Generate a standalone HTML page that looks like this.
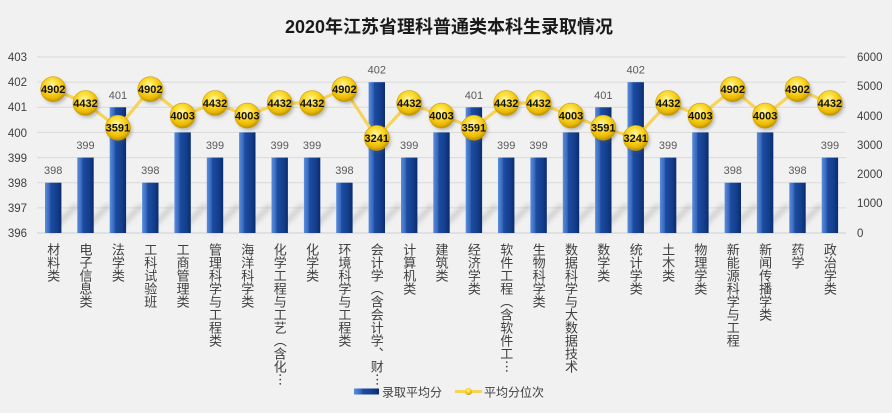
<!DOCTYPE html>
<html><head><meta charset="utf-8"><style>
html,body{margin:0;padding:0;}
body{width:892px;height:413px;background:#f1f1f1;position:relative;overflow:hidden;font-family:"Liberation Sans","Noto Sans CJK SC",sans-serif;}
svg{position:absolute;left:0;top:0;}
.cat{position:absolute;top:243px;width:14px;writing-mode:vertical-rl;text-orientation:mixed;font-size:13px;line-height:14px;color:#404040;font-family:"Noto Sans CJK SC",sans-serif;white-space:nowrap;}
</style></head><body>
<svg width="892" height="413" viewBox="0 0 892 413" xmlns="http://www.w3.org/2000/svg" font-family="Liberation Sans, Noto Sans CJK SC, sans-serif">
<defs>
<linearGradient id="bar" x1="0" y1="0" x2="1" y2="0">
<stop offset="0" stop-color="#5b8ddb"/>
<stop offset="0.28" stop-color="#3465bd"/>
<stop offset="0.34" stop-color="#1d4c9f"/>
<stop offset="0.75" stop-color="#133d8c"/>
<stop offset="1" stop-color="#0a2b6c"/>
</linearGradient>
<radialGradient id="ball" cx="0.45" cy="0.35" r="0.65">
<stop offset="0" stop-color="#fff7b0"/>
<stop offset="0.35" stop-color="#ffdf3a"/>
<stop offset="0.8" stop-color="#eab800"/>
<stop offset="1" stop-color="#b88f00"/>
</radialGradient>
<filter id="blur" x="-50%" y="-50%" width="200%" height="200%"><feGaussianBlur stdDeviation="2.5"/></filter>
<filter id="blur2" x="-50%" y="-50%" width="200%" height="200%"><feGaussianBlur stdDeviation="1.5"/></filter>
</defs>
<text x="449" y="33" text-anchor="middle" font-size="18" font-weight="bold" fill="#1a1a1a">2020年江苏省理科普通类本科生录取情况</text>
<g stroke="#d9d9d9" stroke-width="1">
<line x1="37" y1="57" x2="846" y2="57"/>
<line x1="37" y1="82.1" x2="846" y2="82.1"/>
<line x1="37" y1="107.3" x2="846" y2="107.3"/>
<line x1="37" y1="132.4" x2="846" y2="132.4"/>
<line x1="37" y1="157.6" x2="846" y2="157.6"/>
<line x1="37" y1="182.7" x2="846" y2="182.7"/>
<line x1="37" y1="207.9" x2="846" y2="207.9"/>
<line x1="37" y1="233" x2="846" y2="233" stroke="#d0d0d0"/>
</g>
<g font-size="11.5" fill="#404040" text-anchor="end">
<text x="27" y="61">403</text><text x="27" y="86">402</text><text x="27" y="111">401</text><text x="27" y="137">400</text><text x="27" y="162">399</text><text x="27" y="187">398</text><text x="27" y="212">397</text><text x="27" y="237">396</text>
</g>
<g font-size="11.5" fill="#404040">
<text x="857" y="61">6000</text><text x="857" y="90">5000</text><text x="857" y="120">4000</text><text x="857" y="149">3000</text><text x="857" y="178">2000</text><text x="857" y="207">1000</text><text x="857" y="237">0</text>
</g>
<!-- shadows -->
<g stroke="#9a9a9a" stroke-width="6" stroke-opacity="0.35" filter="url(#blur)">
<line x1="50" y1="232" x2="77" y2="205"/><line x1="82" y1="232" x2="109" y2="205"/><line x1="115" y1="232" x2="142" y2="205"/><line x1="147" y1="232" x2="174" y2="205"/><line x1="179" y1="232" x2="206" y2="205"/><line x1="212" y1="232" x2="239" y2="205"/><line x1="244" y1="232" x2="271" y2="205"/><line x1="276" y1="232" x2="303" y2="205"/><line x1="309" y1="232" x2="336" y2="205"/><line x1="341" y1="232" x2="368" y2="205"/><line x1="373" y1="232" x2="400" y2="205"/><line x1="406" y1="232" x2="433" y2="205"/><line x1="438" y1="232" x2="465" y2="205"/><line x1="470" y1="232" x2="497" y2="205"/><line x1="503" y1="232" x2="530" y2="205"/><line x1="535" y1="232" x2="562" y2="205"/><line x1="567" y1="232" x2="594" y2="205"/><line x1="600" y1="232" x2="627" y2="205"/><line x1="632" y1="232" x2="659" y2="205"/><line x1="664" y1="232" x2="691" y2="205"/><line x1="697" y1="232" x2="724" y2="205"/><line x1="729" y1="232" x2="756" y2="205"/><line x1="761" y1="232" x2="788" y2="205"/><line x1="794" y1="232" x2="821" y2="205"/>
</g>
<!-- bars -->
<g fill="url(#bar)">
<rect x="45.0" y="182.7" width="16.4" height="50.3"/>
<rect x="77.3" y="157.6" width="16.4" height="75.4"/>
<rect x="109.7" y="107.3" width="16.4" height="125.7"/>
<rect x="142.1" y="182.7" width="16.4" height="50.3"/>
<rect x="174.4" y="132.4" width="16.4" height="100.6"/>
<rect x="206.8" y="157.6" width="16.4" height="75.4"/>
<rect x="239.1" y="132.4" width="16.4" height="100.6"/>
<rect x="271.5" y="157.6" width="16.4" height="75.4"/>
<rect x="303.9" y="157.6" width="16.4" height="75.4"/>
<rect x="336.2" y="182.7" width="16.4" height="50.3"/>
<rect x="368.6" y="82.2" width="16.4" height="150.8"/>
<rect x="401.0" y="157.6" width="16.4" height="75.4"/>
<rect x="433.3" y="132.4" width="16.4" height="100.6"/>
<rect x="465.7" y="107.3" width="16.4" height="125.7"/>
<rect x="498.0" y="157.6" width="16.4" height="75.4"/>
<rect x="530.4" y="157.6" width="16.4" height="75.4"/>
<rect x="562.8" y="132.4" width="16.4" height="100.6"/>
<rect x="595.1" y="107.3" width="16.4" height="125.7"/>
<rect x="627.5" y="82.2" width="16.4" height="150.8"/>
<rect x="659.9" y="157.6" width="16.4" height="75.4"/>
<rect x="692.2" y="132.4" width="16.4" height="100.6"/>
<rect x="724.6" y="182.7" width="16.4" height="50.3"/>
<rect x="756.9" y="132.4" width="16.4" height="100.6"/>
<rect x="789.3" y="182.7" width="16.4" height="50.3"/>
<rect x="821.7" y="157.6" width="16.4" height="75.4"/>
</g>
<!-- bar value labels -->
<g font-size="11" fill="#595959" text-anchor="middle">
<text x="53.2" y="174.2">398</text><text x="85.5" y="149.1">399</text><text x="117.9" y="98.8">401</text><text x="150.3" y="174.2">398</text><text x="182.6" y="123.9">400</text><text x="215.0" y="149.1">399</text><text x="247.3" y="123.9">400</text><text x="279.7" y="149.1">399</text><text x="312.1" y="149.1">399</text><text x="344.4" y="174.2">398</text><text x="376.8" y="73.7">402</text><text x="409.2" y="149.1">399</text><text x="441.5" y="123.9">400</text><text x="473.9" y="98.8">401</text><text x="506.2" y="149.1">399</text><text x="538.6" y="149.1">399</text><text x="571.0" y="123.9">400</text><text x="603.3" y="98.8">401</text><text x="635.7" y="73.7">402</text><text x="668.1" y="149.1">399</text><text x="700.4" y="123.9">400</text><text x="732.8" y="174.2">398</text><text x="765.1" y="123.9">400</text><text x="797.5" y="174.2">398</text><text x="829.9" y="149.1">399</text>
</g>
<!-- line -->
<polyline fill="none" stroke="#f6d45a" stroke-width="3.2" stroke-linejoin="round" points="53.2,89.2 85.5,103.0 117.9,127.7 150.3,89.2 182.6,115.6 215.0,103.0 247.3,115.6 279.7,103.0 312.1,103.0 344.4,89.2 376.8,137.9 409.2,103.0 441.5,115.6 473.9,127.7 506.2,103.0 538.6,103.0 571.0,115.6 603.3,127.7 635.7,137.9 668.1,103.0 700.4,115.6 732.8,89.2 765.1,115.6 797.5,89.2 829.9,103.0"/>
<!-- marker shadows -->
<g fill="#555" fill-opacity="0.35" filter="url(#blur2)">
<circle cx="55" cy="91.5" r="12.5"/><circle cx="87.3" cy="105.3" r="12.5"/><circle cx="119.7" cy="130" r="12.5"/><circle cx="152.1" cy="91.5" r="12.5"/><circle cx="184.4" cy="117.9" r="12.5"/><circle cx="216.8" cy="105.3" r="12.5"/><circle cx="249.1" cy="117.9" r="12.5"/><circle cx="281.5" cy="105.3" r="12.5"/><circle cx="313.9" cy="105.3" r="12.5"/><circle cx="346.2" cy="91.5" r="12.5"/><circle cx="378.6" cy="140.2" r="12.5"/><circle cx="411" cy="105.3" r="12.5"/><circle cx="443.3" cy="117.9" r="12.5"/><circle cx="475.7" cy="130" r="12.5"/><circle cx="508" cy="105.3" r="12.5"/><circle cx="540.4" cy="105.3" r="12.5"/><circle cx="572.8" cy="117.9" r="12.5"/><circle cx="605.1" cy="130" r="12.5"/><circle cx="637.5" cy="140.2" r="12.5"/><circle cx="669.9" cy="105.3" r="12.5"/><circle cx="702.2" cy="117.9" r="12.5"/><circle cx="734.6" cy="91.5" r="12.5"/><circle cx="766.9" cy="117.9" r="12.5"/><circle cx="799.3" cy="91.5" r="12.5"/><circle cx="831.7" cy="105.3" r="12.5"/>
</g>
<!-- markers -->
<g fill="url(#ball)" stroke="#c9a000" stroke-width="0.6">
<circle cx="53.2" cy="89.2" r="12.5"/><circle cx="85.5" cy="103.0" r="12.5"/><circle cx="117.9" cy="127.7" r="12.5"/><circle cx="150.3" cy="89.2" r="12.5"/><circle cx="182.6" cy="115.6" r="12.5"/><circle cx="215.0" cy="103.0" r="12.5"/><circle cx="247.3" cy="115.6" r="12.5"/><circle cx="279.7" cy="103.0" r="12.5"/><circle cx="312.1" cy="103.0" r="12.5"/><circle cx="344.4" cy="89.2" r="12.5"/><circle cx="376.8" cy="137.9" r="12.5"/><circle cx="409.2" cy="103.0" r="12.5"/><circle cx="441.5" cy="115.6" r="12.5"/><circle cx="473.9" cy="127.7" r="12.5"/><circle cx="506.2" cy="103.0" r="12.5"/><circle cx="538.6" cy="103.0" r="12.5"/><circle cx="571.0" cy="115.6" r="12.5"/><circle cx="603.3" cy="127.7" r="12.5"/><circle cx="635.7" cy="137.9" r="12.5"/><circle cx="668.1" cy="103.0" r="12.5"/><circle cx="700.4" cy="115.6" r="12.5"/><circle cx="732.8" cy="89.2" r="12.5"/><circle cx="765.1" cy="115.6" r="12.5"/><circle cx="797.5" cy="89.2" r="12.5"/><circle cx="829.9" cy="103.0" r="12.5"/>
</g>
<!-- marker labels -->
<g font-size="11" font-weight="bold" fill="#111" text-anchor="middle">
<text x="53.2" y="93.2">4902</text><text x="85.5" y="107.0">4432</text><text x="117.9" y="131.7">3591</text><text x="150.3" y="93.2">4902</text><text x="182.6" y="119.6">4003</text><text x="215.0" y="107.0">4432</text><text x="247.3" y="119.6">4003</text><text x="279.7" y="107.0">4432</text><text x="312.1" y="107.0">4432</text><text x="344.4" y="93.2">4902</text><text x="376.8" y="141.9">3241</text><text x="409.2" y="107.0">4432</text><text x="441.5" y="119.6">4003</text><text x="473.9" y="131.7">3591</text><text x="506.2" y="107.0">4432</text><text x="538.6" y="107.0">4432</text><text x="571.0" y="119.6">4003</text><text x="603.3" y="131.7">3591</text><text x="635.7" y="141.9">3241</text><text x="668.1" y="107.0">4432</text><text x="700.4" y="119.6">4003</text><text x="732.8" y="93.2">4902</text><text x="765.1" y="119.6">4003</text><text x="797.5" y="93.2">4902</text><text x="829.9" y="107.0">4432</text>
</g>
<!-- legend -->
<rect x="354" y="388.5" width="25" height="6" fill="url(#bar)"/>
<text x="382" y="396.5" font-size="12" fill="#404040">录取平均分</text>
<line x1="455" y1="391.5" x2="482" y2="391.5" stroke="#f6d45a" stroke-width="3"/>
<circle cx="468.5" cy="391.5" r="3.5" fill="url(#ball)"/>
<text x="484" y="396.5" font-size="12" fill="#404040">平均分位次</text>
</svg>
<div class="cat" style="left:46.2px">材料类</div>
<div class="cat" style="left:78.5px">电子信息类</div>
<div class="cat" style="left:110.9px">法学类</div>
<div class="cat" style="left:143.3px">工科试验班</div>
<div class="cat" style="left:175.6px">工商管理类</div>
<div class="cat" style="left:208.0px">管理科学与工程类</div>
<div class="cat" style="left:240.3px">海洋科学类</div>
<div class="cat" style="left:272.7px">化学工程与工艺︵含化︙</div>
<div class="cat" style="left:305.1px">化学类</div>
<div class="cat" style="left:337.4px">环境科学与工程类</div>
<div class="cat" style="left:369.8px">会计学︵含会计学︑财︙</div>
<div class="cat" style="left:402.2px">计算机类</div>
<div class="cat" style="left:434.5px">建筑类</div>
<div class="cat" style="left:466.9px">经济学类</div>
<div class="cat" style="left:499.2px">软件工程︵含软件工︙</div>
<div class="cat" style="left:531.6px">生物科学类</div>
<div class="cat" style="left:564.0px">数据科学与大数据技术</div>
<div class="cat" style="left:596.3px">数学类</div>
<div class="cat" style="left:628.7px">统计学类</div>
<div class="cat" style="left:661.1px">土木类</div>
<div class="cat" style="left:693.4px">物理学类</div>
<div class="cat" style="left:725.8px">新能源科学与工程</div>
<div class="cat" style="left:758.1px">新闻传播学类</div>
<div class="cat" style="left:790.5px">药学</div>
<div class="cat" style="left:822.9px">政治学类</div>
</body></html>
